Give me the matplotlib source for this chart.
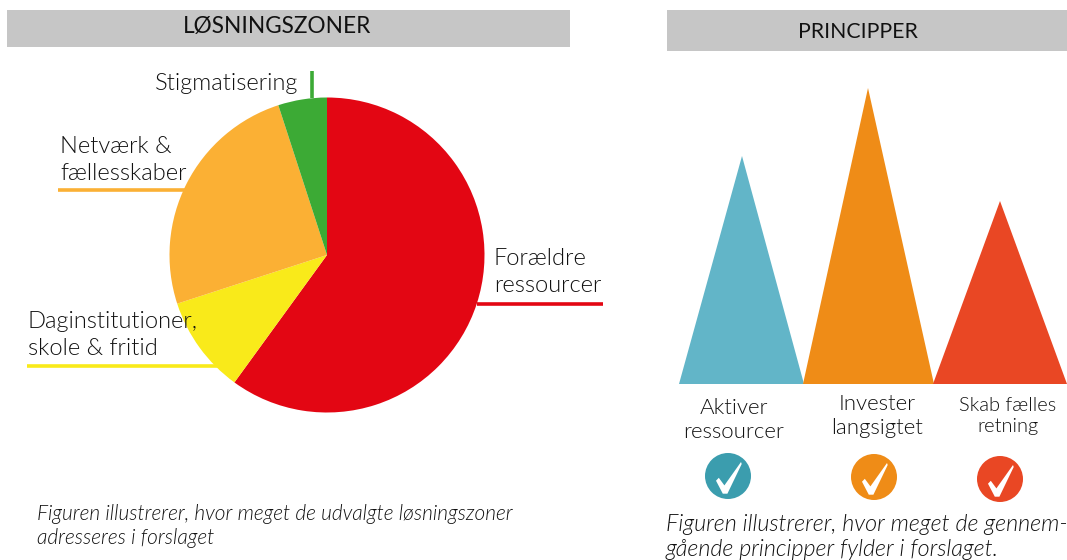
"""
Recreate the two-panel figure: solution zones (pie) and principles (triangles).
"""

import matplotlib
matplotlib.use("Agg")
import matplotlib.pyplot as plt
from matplotlib.patches import Circle, Polygon, Rectangle

plt.rcParams['font.family'] = ['Lato', 'DejaVu Sans']

W, H = 1067, 560
LIGHT = 300

# ── Data ──────────────────────────────────────────────────────────────────────

zones = ["Forældre\nressourcer", "Daginstitutioner,\nskole & fritid",
         "Netværk &\nfællesskaber", "Stigmatisering"]
zone_shares = [60, 10, 25, 5]
zone_colors = ["#E30613", "#F9EA1A", "#FBB034", "#3CAA35"]

principles = ["Aktiver\nressourcer", "Invester\nlangsigtet", "Skab fælles\nretning"]
principle_heights = [228, 296, 183]
principle_colors = ["#62B5C8", "#EF8C17", "#E94724"]
check_colors = ["#3B9DAE", "#EF8C17", "#E94724"]

# ── Layout (pixels) ───────────────────────────────────────────────────────────

PIE_X, PIE_Y, PIE_R = 327, 255, 157.5
TRI_LEFT = [679, 803, 933]
TRI_RIGHT = [804, 934, 1067]
TRI_APEX = [742, 868, 1000]
TRI_BASE = 384
CHECK_POS = [(728, 476), (874, 477), (1000, 479)]
CHECK_R = 23


def draw_check(ax, cx, cy):
    xs = [-12, -9.2, -3.6, 13, 13.7, -0.6, -5.2]
    ys = [4.7, 1.8, 9.4, -14, -12, 17.7, 17.7]
    pts = [(cx + x, cy + y) for x, y in zip(xs, ys)]
    ax.add_patch(Polygon(pts, closed=True, facecolor="white", edgecolor="none", zorder=5))


fig = plt.figure(figsize=(W / 100, H / 100), dpi=100, facecolor="white")

# overlay in pixel coordinates for headers, labels and leader lines
ax = fig.add_axes([0, 0, 1, 1])
ax.set_xlim(0, W)
ax.set_ylim(H, 0)
ax.axis("off")

ax.add_patch(Rectangle((7, 10), 563, 37, facecolor="#C6C6C6", edgecolor="none"))
ax.add_patch(Rectangle((667, 10), 400, 41, facecolor="#C6C6C6", edgecolor="none"))
ax.text(277.5, 27, "LØSNINGSZONER", ha="center", va="center", fontsize=16.3, color="#111111")
ax.text(858, 32, "PRINCIPPER", ha="center", va="center", fontsize=15.3, color="#111111")

# pie
pie_ax = fig.add_axes([(PIE_X - PIE_R) / W, 1 - (PIE_Y + PIE_R) / H,
                       2 * PIE_R / W, 2 * PIE_R / H])
pie_ax.pie(zone_shares, colors=zone_colors, startangle=90, counterclock=False, radius=1)
pie_ax.set_xlim(-1, 1)
pie_ax.set_ylim(-1, 1)

# leader lines and labels
ax.plot([477, 603], [304, 304], color=zone_colors[0], lw=2.6, solid_capstyle="butt")
ax.plot([27, 218], [366, 366], color=zone_colors[1], lw=2.6, solid_capstyle="butt")
ax.plot([58, 186], [190, 190], color=zone_colors[2], lw=2.6, solid_capstyle="butt")
ax.plot([312, 312], [71, 98], color=zone_colors[3], lw=2.6, solid_capstyle="butt")

label_style = dict(ha="left", va="center", fontsize=17, color="#111111",
                   fontweight=LIGHT, linespacing=1.3)
pie_labels = fig.add_axes([0, 0, 1, 1], facecolor="none")
pie_labels.set_xlim(0, W)
pie_labels.set_ylim(H, 0)
pie_labels.axis("off")
pie_labels.text(494, 272, zones[0], **label_style)
pie_labels.text(28, 335, zones[1], **label_style)
pie_labels.text(60, 160, zones[2], **label_style)
pie_labels.text(155, 83, zones[3], **label_style)

# triangles, scaled from their heights
for h, c, x0, x1, xa in zip(principle_heights, principle_colors, TRI_LEFT, TRI_RIGHT, TRI_APEX):
    ax.add_patch(Polygon([(x0, TRI_BASE), (xa, TRI_BASE - h), (x1, TRI_BASE)],
                         closed=True, facecolor=c, edgecolor="none"))

ax.text(734, 420, principles[0], ha="center", va="center", fontsize=16,
        color="#111111", fontweight=LIGHT, linespacing=1.2)
ax.text(877, 416, principles[1], ha="center", va="center", fontsize=16,
        color="#111111", fontweight=LIGHT, linespacing=1.2)
ax.text(1008, 416, principles[2], ha="center", va="center", fontsize=14.4,
        color="#111111", fontweight=LIGHT, linespacing=1.3)

for (cx, cy), c in zip(CHECK_POS, check_colors):
    ax.add_patch(Circle((cx, cy), CHECK_R, facecolor=c, edgecolor="none"))
    draw_check(ax, cx, cy)

# captions
ax.text(37, 526, "Figuren illustrerer, hvor meget de udvalgte løsningszoner\nadresseres i forslaget",
        ha="left", va="center", fontsize=15, style="italic", fontweight=LIGHT,
        color="#111111", linespacing=1.2)
ax.text(666, 537, "Figuren illustrerer, hvor meget de gennem-\ngående principper fylder i forslaget.",
        ha="left", va="center", fontsize=16.8, style="italic", fontweight=LIGHT,
        color="#111111", linespacing=1.22)

fig.savefig("out.png", dpi=100)
